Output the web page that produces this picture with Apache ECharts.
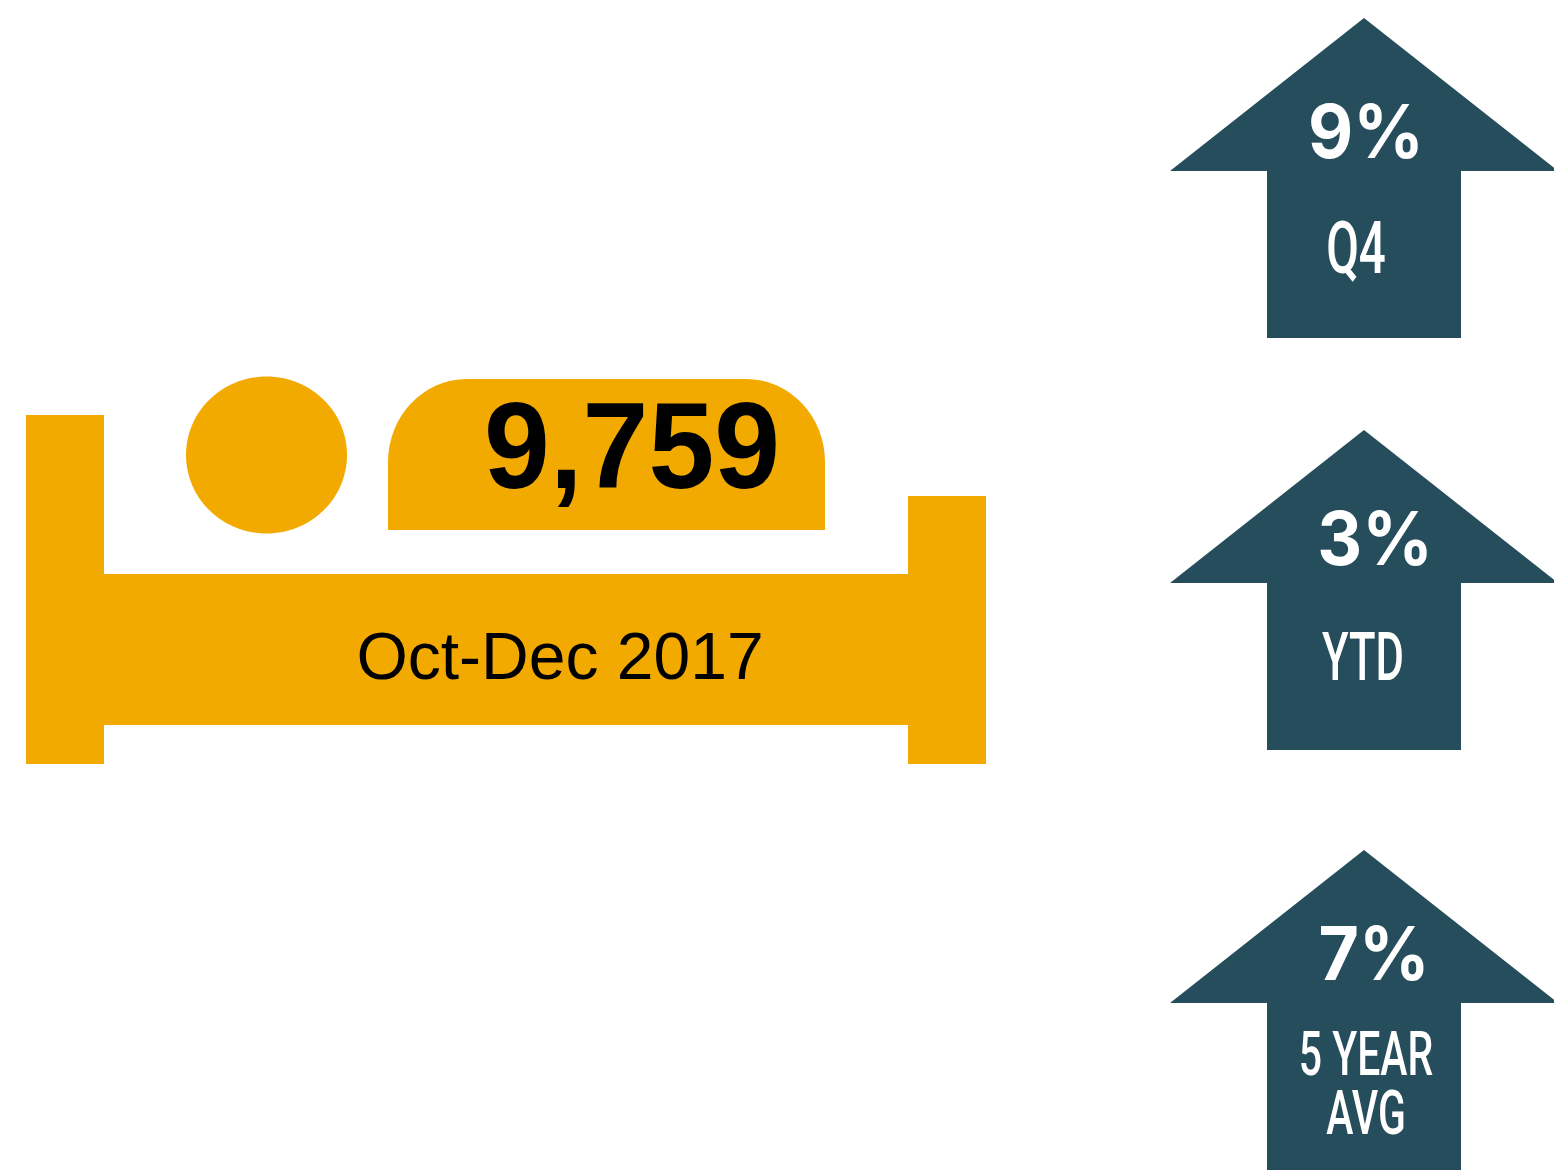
<!DOCTYPE html>
<html>
<head>
<meta charset="utf-8">
<style>html,body{margin:0;padding:0;background:#fff}#chart{width:1554px;height:1170px}</style>
<script src="https://cdn.jsdelivr.net/npm/echarts@6/dist/echarts.min.js"></script>
</head>
<body>
<div id="chart"></div>
<script>
// values
const totalLabel = "9,759";
const periodLabel = "Oct-Dec 2017";
const changeValues = ["9%", "3%", "7%"];
const changeLabels = [["Q4"], ["YTD"], ["5 YEAR", "AVG"]];

const orange = "#F3AA00";
const teal = "#264D5C";

// layout of the arrows: top of each arrow, centre of the value, centres of the label lines
const arrowTops = [18, 430, 850];
const valueX = [1366, 1375, 1374];
const valueY = [136, 543, 958];
const labelX = [1356, 1363, 1366];
const labelY = [[255], [663], [1059, 1118]];
const labelSize = [[72], [66], [62, 62]];

const text = (x, y, str, style, scaleX) => ({
  type: "text",
  x: x,
  y: y,
  scaleX: scaleX || 1,
  style: Object.assign({ text: str, align: "center", verticalAlign: "middle" }, style),
});

const arrow = (top) => ({
  type: "polygon",
  shape: {
    points: [
      [1364, top],
      [1558, top + 153],
      [1461, top + 153],
      [1461, top + 320],
      [1267, top + 320],
      [1267, top + 153],
      [1170, top + 153],
    ],
  },
  style: { fill: teal },
});

const rect = (x, y, width, height) => ({
  type: "rect",
  shape: { x, y, width, height },
  style: { fill: orange },
});

const elements = [
  rect(26, 415, 78, 349),
  rect(908, 496, 78, 268),
  rect(104, 574, 804, 151),
  {
    type: "ellipse",
    shape: { cx: 266.5, cy: 455, rx: 80.5, ry: 78.5 },
    style: { fill: orange },
  },
  {
    // pillow, corners a little taller than wide
    type: "rect",
    x: 388,
    y: 379,
    scaleY: 1.0486,
    shape: { x: 0, y: 0, width: 437, height: 144, r: [79, 79, 0, 0] },
    style: { fill: orange },
  },
  text(632, 454, totalLabel, { fontFamily: "Liberation Sans", fontWeight: "bold", fontSize: 122, fill: "#000" }, 0.97),
  text(560, 661, periodLabel, { fontFamily: "Liberation Sans", fontSize: 66, fill: "#000" }),
];

changeValues.forEach((value, i) => {
  elements.push(arrow(arrowTops[i]));
  elements.push(text(valueX[i], valueY[i], value, { fontFamily: "Inter", fontWeight: "bold", fontSize: 74, fill: "#fff" }, 0.94));
  changeLabels[i].forEach((line, j) => {
    elements.push(text(labelX[i], labelY[i][j], line, { fontFamily: "Roboto", fontWeight: 500, fontSize: labelSize[i][j], fill: "#fff" }, 0.66));
  });
});

const myChart = echarts.init(document.getElementById("chart"));
myChart.setOption({
  animation: false,
  graphic: { elements: elements },
});
</script>
</body>
</html>
